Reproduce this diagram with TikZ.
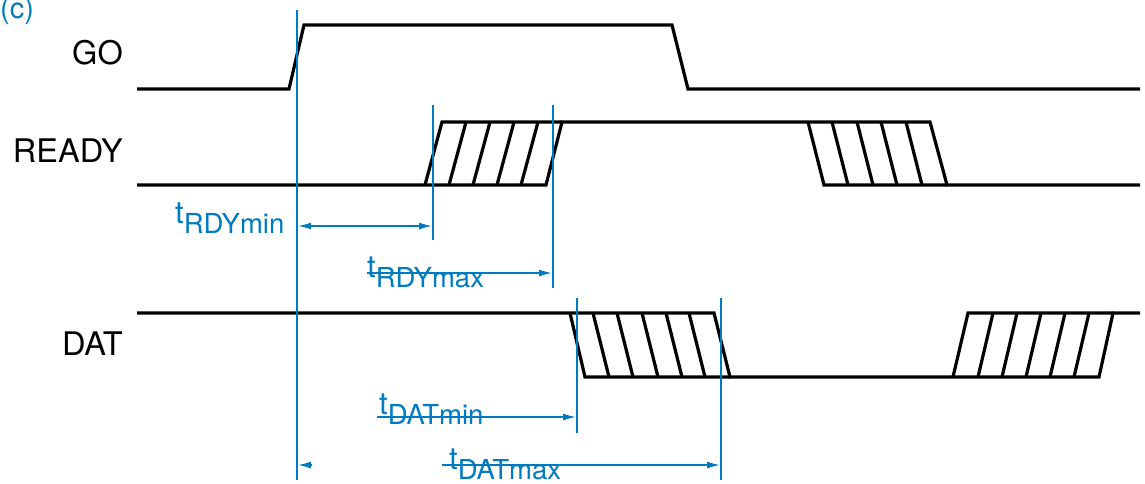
\documentclass[tikz,border=0pt]{standalone}
\usepackage{fontspec}
\setmainfont{TeX Gyre Heros}
\usetikzlibrary{arrows.meta}
\definecolor{tblue}{RGB}{0,122,192}
\newcommand{\tsub}[1]{{\fontsize{31}{33}\selectfont t}\raisebox{-10pt}{\fontsize{27.5}{29}\selectfont #1}}
\begin{document}
\begin{tikzpicture}[x=1pt,y=-1pt,
  sig/.style={line width=3.2pt,line join=miter,black},
  hatch/.style={line width=3.2pt,black},
  tmark/.style={tblue,line width=1.5pt},
  dim/.style={tblue,line width=1.5pt},
  tip/.style={-{Latex[length=13pt,width=7pt]}},
  siglabel/.style={anchor=base east,font=\fontsize{32.5}{34}\selectfont,inner sep=0pt},
  tlabel/.style={anchor=base west,text=tblue,inner sep=0pt}]
\useasboundingbox (0,0) rectangle (1145,484);
% labels
\node[anchor=base west,text=tblue,inner sep=0pt,font=\fontsize{29}{31}\selectfont] (c) at (0,19) {(c)};
\node[siglabel] (go) at (123,65) {GO};
\node[siglabel] (ready) at (123,162) {READY};
\node[siglabel] (dat) at (123,355) {DAT};
% GO
\draw[sig] (137,89) -- (289,89) -- (304,25) -- (672,25) -- (688,89) -- (1140,89);
% READY
\draw[sig] (137,185) -- (546,185) -- (562,122) -- (930,122) -- (947,185) -- (1140,185);
\draw[sig] (425,185) -- (442,122) -- (562,122);
\draw[sig] (808,122) -- (824,185) -- (947,185);
\foreach \b in {449,473,497,521} \draw[hatch] (\b,185) -- (\b+17,122);
\foreach \t in {832,857,881,906} \draw[hatch] (\t,122) -- (\t+16,185);
% DAT
\draw[sig] (137,313) -- (714,313) -- (730,377) -- (1099,377) -- (1113,313) -- (1140,313);
\draw[sig] (570,313) -- (585,377) -- (730,377);
\draw[sig] (953,377) -- (968,313) -- (1113,313);
\foreach \t in {593,617,642,666,689} \draw[hatch] (\t,313) -- (\t+16,377);
\foreach \b in {978,1002,1026,1050,1074} \draw[hatch] (\b,377) -- (\b+15,313);
% blue timing marks
\coordinate (m0t) at (297,10);   \coordinate (m0b) at (297,480);
\coordinate (m1t) at (433,105);  \coordinate (m1b) at (433,240);
\coordinate (m2t) at (553,105);  \coordinate (m2b) at (553,288);
\coordinate (m3t) at (577,298);  \coordinate (m3b) at (577,433);
\coordinate (m4t) at (721,298);  \coordinate (m4b) at (721,480);
\draw[tmark] (m0t) -- (m0b);
\draw[tmark] (m1t) -- (m1b);
\draw[tmark] (m2t) -- (m2b);
\draw[tmark] (m3t) -- (m3b);
\draw[tmark] (m4t) -- (m4b);
% dimension arrows
\coordinate (a1l) at (298,226); \coordinate (a1r) at (432,226);
\draw[dim,{Latex[length=13pt,width=7pt]}-{Latex[length=13pt,width=7pt]}] (a1l) -- (a1r);
\node[tlabel] (rdymin) at (175,223) {\tsub{RDYmin}};
\coordinate (a2l) at (367,273); \coordinate (a2r) at (552,273);
\node[tlabel] (rdymax) at (367,277) {\tsub{RDYmax}};
\draw[dim,tip] (a2l) -- (a2r);
\coordinate (a3l) at (377,417); \coordinate (a3r) at (576,417);
\node[tlabel] (datmin) at (379,414) {\tsub{DATmin}};
\draw[dim,tip] (a3l) -- (a3r);
\coordinate (a4l) at (442,465); \coordinate (a4r) at (720,465);
\node[tlabel] (datmax) at (449,469) {\tsub{DATmax}};
\draw[dim,tip] (a4l) -- (a4r);
\coordinate (a5l) at (298,465); \coordinate (a5r) at (312,465);
\draw[dim,tip] (a5r) -- (a5l);
\end{tikzpicture}
\end{document}
